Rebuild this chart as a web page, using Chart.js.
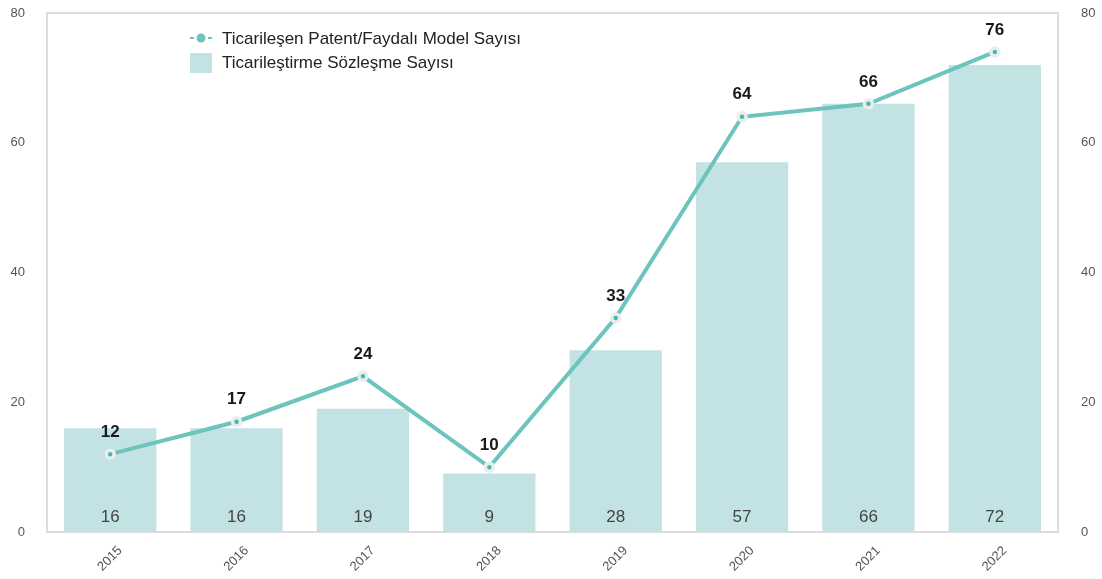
<!DOCTYPE html>
<html>
<head>
<meta charset="utf-8">
<script src="https://cdn.jsdelivr.net/npm/chart.js@4"></script>
<style>
  html, body { margin: 0; padding: 0; background: #fff; }
  #wrap { width: 1102px; height: 579px; position: relative; }
</style>
</head>
<body>
<div id="wrap"><canvas id="c"></canvas></div>
<script>
// ── DATA ─────────────────────────────────────────────────────
const years      = ['2015', '2016', '2017', '2018', '2019', '2020', '2021', '2022'];
const contracts  = [16, 16, 19, 9, 28, 57, 66, 72];          // bars
const patents    = [12, 17, 24, 10, 33, 64, 66, 74];         // line (plotted position)
const patentText = ['12', '17', '24', '10', '33', '64', '66', '76'];
const yTicks     = [0, 20, 40, 60, 80];

const LINE = '#6cc4bd';
const BAR  = '#c2e2e3';
const FONT = "'Liberation Sans', Arial, sans-serif";

// ── PLUGINS ──────────────────────────────────────────────────
const frame = {
  id: 'frame',
  beforeDatasetsDraw(chart) {
    const { ctx, chartArea: a } = chart;
    ctx.save();
    ctx.strokeStyle = '#dcdcdc';
    ctx.lineWidth = 2;
    ctx.strokeRect(a.left, a.top, a.right - a.left, a.bottom - a.top);
    ctx.restore();
  },
};

const labels = {
  id: 'labels',
  afterDatasetsDraw(chart) {
    const { ctx, chartArea: a } = chart;
    ctx.save();
    ctx.textAlign = 'center';
    ctx.textBaseline = 'middle';
    // bar values at the foot of each bar
    ctx.font = `17px ${FONT}`;
    ctx.fillStyle = '#444';
    chart.getDatasetMeta(1).data.forEach((b, i) => {
      ctx.fillText(String(contracts[i]), b.x, a.bottom - 15);
    });
    // line values above each point
    ctx.font = `bold 17px ${FONT}`;
    ctx.fillStyle = '#1a1a1a';
    chart.getDatasetMeta(0).data.forEach((p, i) => {
      ctx.fillText(patentText[i], p.x, p.y - 22);
    });

    // legend
    const lx = 190, ly = 38;
    ctx.strokeStyle = LINE;
    ctx.lineWidth = 2;
    ctx.beginPath();
    ctx.moveTo(lx, ly); ctx.lineTo(lx + 4, ly);
    ctx.moveTo(lx + 18, ly); ctx.lineTo(lx + 22, ly);
    ctx.stroke();
    ctx.fillStyle = LINE;
    ctx.beginPath();
    ctx.arc(lx + 11, ly, 4.5, 0, Math.PI * 2);
    ctx.fill();
    ctx.fillStyle = BAR;
    ctx.fillRect(lx, ly + 15, 22, 20);
    ctx.font = `17px ${FONT}`;
    ctx.fillStyle = '#222';
    ctx.textAlign = 'left';
    ctx.fillText('Ticarileşen Patent/Faydalı Model Sayısı', lx + 32, ly + 1);
    ctx.fillText('Ticarileştirme Sözleşme Sayısı', lx + 32, ly + 25);
    ctx.restore();
  },
};

// ── CHART ────────────────────────────────────────────────────
const tickFont = { family: FONT, size: 13 };

// fixed side-axis width, no extra label padding above/below the plot
const sideFit = w => ax => { ax.width = w; ax.paddingTop = 0; ax.paddingBottom = 0; };

new Chart(document.getElementById('c'), {
  data: {
    labels: years,
    datasets: [
      {
        type: 'line',
        data: patents,
        borderColor: LINE,
        borderWidth: 4,
        pointRadius: 4,
        pointBorderWidth: 3.5,
        pointBackgroundColor: '#3dbdb5',
        pointBorderColor: '#ececec',
        tension: 0,
        order: 0,
      },
      {
        type: 'bar',
        data: contracts,
        backgroundColor: BAR,
        barPercentage: 0.73,
        categoryPercentage: 1,
        order: 1,
      },
    ],
  },
  options: {
    responsive: true,
    maintainAspectRatio: false,
    animation: false,
    layout: { padding: { top: 13, bottom: 0, left: 0, right: 0 } },
    plugins: { legend: { display: false }, tooltip: { enabled: false } },
    scales: {
      x: {
        grid: { display: false },
        border: { display: false },
        afterFit: ax => { ax.height = 47; ax.paddingLeft = 0; ax.paddingRight = 0; },
        ticks: {
          color: '#555', font: { family: FONT, size: 13 },
          minRotation: 45, maxRotation: 45, crossAlign: 'center', padding: 3, labelOffset: 10,
        },
      },
      y: {
        position: 'left',
        min: 0, max: 80,
        afterBuildTicks: ax => { ax.ticks = yTicks.map(v => ({ value: v })); },
        afterFit: sideFit(47),
        grid: { display: false },
        border: { display: false },
        ticks: { color: '#555', font: tickFont, padding: 14 },
      },
      y2: {
        position: 'right',
        min: 0, max: 80,
        afterBuildTicks: ax => { ax.ticks = yTicks.map(v => ({ value: v })); },
        afterFit: sideFit(44),
        grid: { display: false },
        border: { display: false },
        ticks: { color: '#555', font: tickFont, padding: 15 },
      },
    },
  },
  plugins: [frame, labels],
});
</script>
</body>
</html>
